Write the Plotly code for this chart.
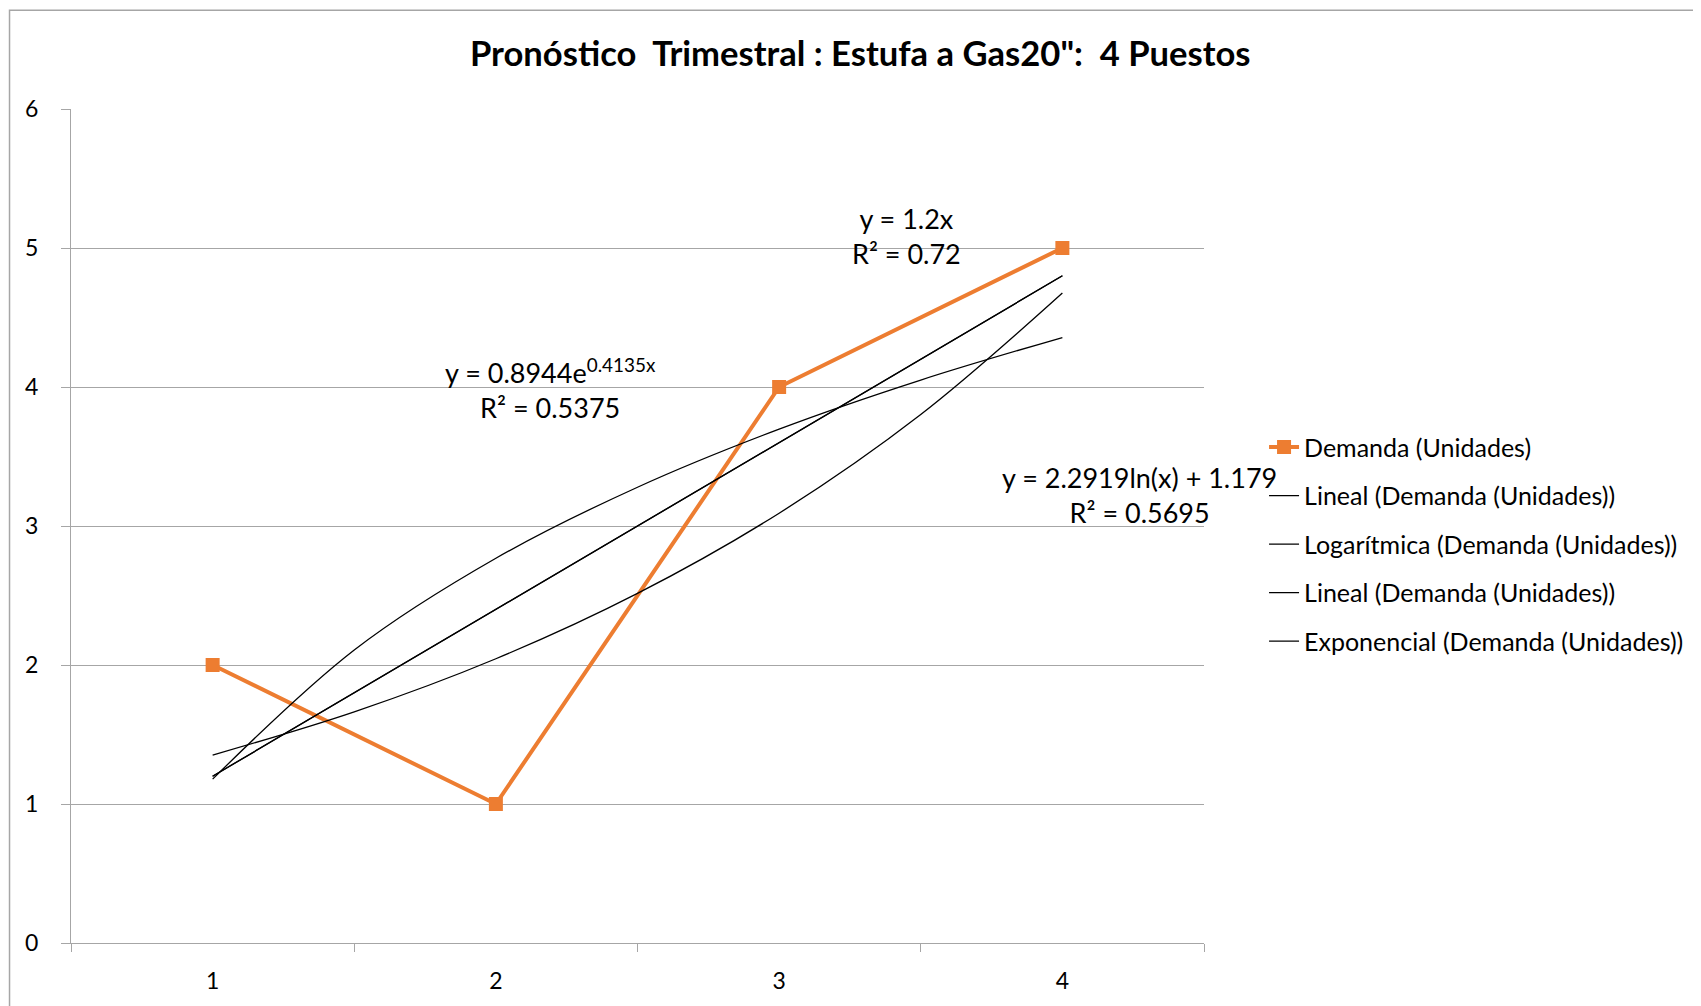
import plotly.graph_objects as go

# ---- data ----
quarters = [1, 2, 3, 4]
demanda = [2, 1, 4, 5]
trend_x = [1, 1.5, 2, 2.5, 3, 3.5, 4]
lineal = [1.2, 1.8, 2.4, 3.0, 3.6, 4.2, 4.8]
logaritmica = [1.179, 2.108, 2.768, 3.279, 3.697, 4.050, 4.356]
exponencial = [1.352, 1.663, 2.045, 2.515, 3.092, 3.802, 4.676]
x_tick_labels = ["1", "2", "3", "4"]
y_ticks = [0, 1, 2, 3, 4, 5, 6]
boundary_ticks = [0.5, 1.5, 2.5, 3.5, 4.5]

title_text = 'Pronóstico  Trimestral : Estufa a Gas20":  4 Puestos'
eq_lineal = "y = 1.2x<br>R² = 0.72"
eq_exp = "y = 0.8944e<sup>0.4135x</sup><br>R² = 0.5375"
eq_log = "y = 2.2919ln(x) + 1.179<br>R² = 0.5695"

FONT = "Lato"
ORANGE = "#ED7D31"
GRID = "#A6A6A6"

fig = go.Figure()
fig.add_trace(go.Scatter(
    x=quarters, y=demanda, mode="lines+markers", name="Demanda (Unidades)",
    line=dict(color=ORANGE, width=4), marker=dict(symbol="square", size=14, color=ORANGE),
    legendgroup="g1"))
fig.add_trace(go.Scatter(
    x=trend_x, y=lineal, mode="lines", name="Lineal (Demanda (Unidades))",
    line=dict(color="black", width=1.3), legendgroup="g2"))
fig.add_trace(go.Scatter(
    x=trend_x, y=logaritmica, mode="lines", name="Logarítmica (Demanda (Unidades))",
    line=dict(color="black", width=1.3, shape="spline"), legendgroup="g3"))
fig.add_trace(go.Scatter(
    x=trend_x, y=lineal, mode="lines", name="Lineal (Demanda (Unidades))",
    line=dict(color="black", width=1.3), legendgroup="g4"))
fig.add_trace(go.Scatter(
    x=trend_x, y=exponencial, mode="lines", name="Exponencial (Demanda (Unidades))",
    line=dict(color="black", width=1.3, shape="spline"), legendgroup="g5"))
# invisible trace carrying the boundary tick marks on the overlay axis
fig.add_trace(go.Scatter(x=[0.5], y=[0], xaxis="x2", mode="markers",
                         marker=dict(opacity=0), showlegend=False, hoverinfo="skip"))

W, H = 1693, 998
L, T = 62.5, 100.5
PW, PH = 1133.5, 836.5

fig.update_layout(
    width=W, height=H,
    margin=dict(l=L, r=W - L - PW, t=T, b=H - T - PH),
    paper_bgcolor="white", plot_bgcolor="white",
    font=dict(family=FONT, color="black", size=23),
    title=dict(text=title_text, x=(793 * 1701 / 1568 - 8) / W, xanchor="center",
               y=1 - (50 * 1006 / 927 - 8) / H, yanchor="middle",
               font=dict(family=FONT, size=34.6, color="black", weight="bold")),
    xaxis=dict(range=[0.5, 4.5], tickvals=quarters, ticktext=x_tick_labels, ticks="",
               showgrid=False, zeroline=False, showline=True, linecolor=GRID, linewidth=1.3,
               ticklabelstandoff=17, tickfont=dict(size=23)),
    xaxis2=dict(range=[0.5, 4.5], overlaying="x", side="bottom", tickvals=boundary_ticks,
                showticklabels=False, ticks="outside", ticklen=8, tickcolor=GRID, tickwidth=1.3,
                showgrid=False, zeroline=False, showline=False),
    yaxis=dict(range=[0, 6], tickvals=y_ticks, ticks="outside", ticklen=9, tickcolor=GRID,
               tickwidth=1.3, showgrid=True, gridcolor=GRID, gridwidth=1.3, zeroline=False,
               showline=True, linecolor=GRID, linewidth=1.3, ticklabelstandoff=18,
               tickfont=dict(size=23)),
    legend=dict(x=1.053, xanchor="left", y=0.478, yanchor="middle", tracegroupgap=13,
                font=dict(family=FONT, size=25, color="black"), bgcolor="rgba(0,0,0,0)"),
    showlegend=True,
    shapes=[dict(type="rect", xref="paper", yref="paper", x0=(1 - L) / PW, x1=1.6, y0=-0.3,
                 y1=(T + PH - 1.5) / PH,
                 line=dict(color="#A6A6A6", width=1.5), fillcolor="rgba(0,0,0,0)", layer="below")],
    annotations=[
        dict(text=eq_lineal, x=3.448, y=5.086, xref="x", yref="y", showarrow=False,
             align="center", font=dict(family=FONT, size=27, color="black")),
        dict(text=eq_exp, x=2.192, y=3.989, xref="x", yref="y", showarrow=False,
             align="center", font=dict(family=FONT, size=27, color="black")),
        dict(text=eq_log, x=0.9427, y=3.221 / 6, xref="paper", yref="paper", xanchor="center",
             yanchor="middle", showarrow=False,
             align="center", font=dict(family=FONT, size=27, color="black")),
    ],
)

fig.write_html("out.html")
